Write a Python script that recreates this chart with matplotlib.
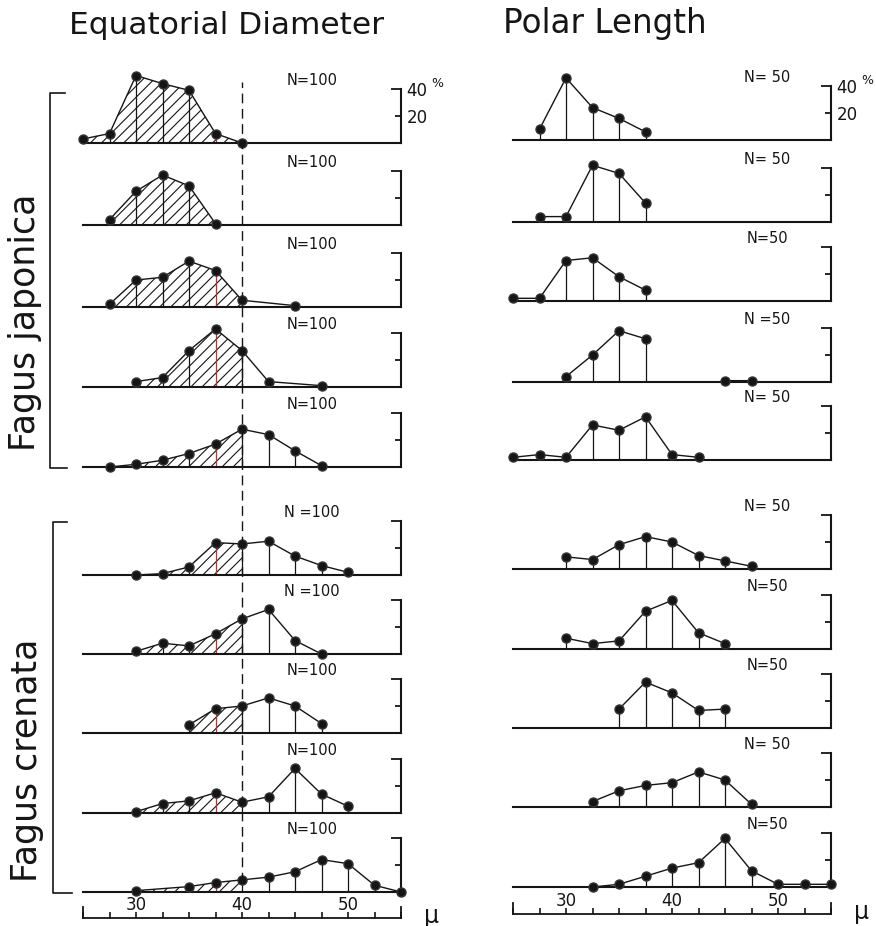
import numpy as np
import matplotlib
matplotlib.use('Agg')
import matplotlib.pyplot as plt
from matplotlib.ticker import FormatStrFormatter

# class mid-points (micron) and frequencies (%) for each sample, top to bottom
eq_sizes = [
    [25, 27.5, 30, 32.5, 35, 37.5, 40],
    [27.5, 30, 32.5, 35, 37.5],
    [27.5, 30, 32.5, 35, 37.5, 40, 45],
    [30, 32.5, 35, 37.5, 40, 42.5, 47.5],
    [27.5, 30, 32.5, 35, 37.5, 40, 42.5, 45, 47.5],
    [30, 32.5, 35, 37.5, 40, 42.5, 45, 47.5, 50],
    [30, 32.5, 35, 37.5, 40, 42.5, 45, 47.5],
    [35, 37.5, 40, 42.5, 45, 47.5],
    [30, 32.5, 35, 37.5, 40, 42.5, 45, 47.5, 50],
    [30, 35, 37.5, 40, 42.5, 45, 47.5, 50, 52.5, 55],
]
eq_freq = [
    [3, 7, 50, 44, 39, 7, 0],
    [4, 25, 37, 29, 1],
    [2, 20, 22, 34, 27, 5, 1],
    [4, 7, 27, 43, 27, 4, 1],
    [0, 2, 5, 10, 17, 28, 24, 12, 1],
    [0, 1, 6, 24, 23, 25, 14, 7, 2],
    [2, 8, 6, 15, 26, 33, 10, 0],
    [6, 18, 20, 26, 20, 7],
    [1, 7, 9, 15, 8, 12, 33, 14, 5],
    [1, 4, 7, 9, 11, 15, 24, 21, 5, 0],
]
eq_n = ["N=100", "N=100", "N=100", "N=100", "N=100",
        "N =100", "N =100", "N=100", "N=100", "N=100"]

pol_sizes = [
    [27.5, 30, 32.5, 35, 37.5],
    [27.5, 30, 32.5, 35, 37.5],
    [25, 27.5, 30, 32.5, 35, 37.5],
    [30, 32.5, 35, 37.5, 40, 42.5, 45, 47.5],
    [25, 27.5, 30, 32.5, 35, 37.5, 40, 42.5],
    [30, 32.5, 35, 37.5, 40, 42.5, 45, 47.5],
    [30, 32.5, 35, 37.5, 40, 42.5, 45],
    [35, 37.5, 40, 42.5, 45],
    [32.5, 35, 37.5, 40, 42.5, 45, 47.5],
    [32.5, 35, 37.5, 40, 42.5, 45, 47.5, 50, 52.5, 55],
]
pol_freq = [
    [8, 46, 24, 16, 6],
    [4, 4, 42, 36, 14],
    [2, 2, 30, 32, 18, 8],
    [4, 20, 38, 32, np.nan, np.nan, 1, 1],
    [2, 4, 2, 26, 22, 32, 4, 2],
    [9, 7, 18, 24, 20, 10, 6, 2],
    [8, 4, 6, 28, 36, 12, 4],
    [14, 34, 26, 13, 14],
    [4, 12, 16, 18, 26, 20, 2],
    [0, 2, 8, 14, 18, 36, 12, 2, 2, 2],
]
pol_n = ["N= 50", "N= 50", "N=50", "N =50", "N= 50",
         "N= 50", "N=50", "N=50", "N= 50", "N=50"]

INK = '#151515'
RED = '#b8352c'
W, H = 876, 926
YPX = 1.35          # pixels per percent
YLO, YHI = -4, 60

plt.rcParams['font.family'] = 'DejaVu Sans'
plt.rcParams['hatch.linewidth'] = 0.8

fig = plt.figure(figsize=(W / 100, H / 100), dpi=100)


def fx(px):
    return px / W


def fy(py):
    return 1 - py / H


def panel(x25, x55, base):
    ax = fig.add_axes([fx(x25), fy(base - YLO * YPX),
                       (x55 - x25) / W, (YHI - YLO) * YPX / H])
    ax.set_xlim(25, 55)
    ax.set_ylim(YLO, YHI)
    ax.patch.set_visible(False)
    ax.spines['top'].set_visible(False)
    ax.spines['left'].set_visible(False)
    ax.spines['bottom'].set_position(('data', 0))
    ax.spines['bottom'].set_bounds(25, 55)
    ax.spines['right'].set_position(('data', 55))
    ax.spines['right'].set_bounds(0, 40)
    for s in ['bottom', 'right']:
        ax.spines[s].set_linewidth(1.5)
        ax.spines[s].set_color(INK)
    ax.set_xticks([])
    ax.yaxis.set_ticks_position('right')
    ax.set_yticks([40])
    ax.set_yticks([20], minor=True)
    ax.tick_params(axis='y', which='major', direction='in', length=7,
                   width=1.3, color=INK, labelright=False)
    ax.tick_params(axis='y', which='minor', direction='in', length=4,
                   width=1.3, color=INK, labelright=False)
    return ax


def draw(ax, xs, ys, hatch):
    xs = np.array(xs, float)
    ys = np.array(ys, float)
    ok = ~np.isnan(ys)
    if hatch:
        m = ok & (xs <= 40)
        ax.fill_between(xs[m], 0, ys[m], facecolor='none', edgecolor=INK,
                        hatch='///', linewidth=0, zorder=1)
    cols = [RED if (hatch and x == 37.5) else INK for x in xs[ok]]
    ax.vlines(xs[ok], 0, ys[ok], colors=cols, lw=0.9, zorder=2, clip_on=False)
    ax.plot(xs, ys, '-', color=INK, lw=1.0, zorder=3, clip_on=False)
    ax.plot(xs[ok], ys[ok], 'o', ms=6.5, color=INK, mec='#333333',
            zorder=4, clip_on=False)


def column(x25, x55, bases, sizes, freqs, nlab, nx, hatch):
    for i, base in enumerate(bases):
        ax = panel(x25, x55, base)
        draw(ax, sizes[i], freqs[i], hatch)
        ax.text(nx, 46, nlab[i], ha='center', va='center', fontsize=10.5,
                color=INK)
        if i == 0:
            ax.yaxis.set_minor_formatter(FormatStrFormatter('%d'))
            ax.tick_params(axis='y', which='both', labelright=True,
                           labelsize=12, pad=4, labelcolor=INK)
            ax.annotate('%', xy=(55, 40), xytext=(22, 4),
                        textcoords='offset points', fontsize=9,
                        ha='left', va='center', color=INK)


def size_axis(x25, x55, ypx):
    ax = fig.add_axes([fx(x25), fy(ypx), (x55 - x25) / W, 11 / H])
    ax.set_xlim(25, 55)
    ax.set_ylim(0, 1)
    ax.patch.set_visible(False)
    ax.spines['top'].set_visible(False)
    for s in ['bottom', 'left', 'right']:
        ax.spines[s].set_linewidth(1.3)
        ax.spines[s].set_color(INK)
    ax.set_yticks([])
    ax.set_xticks([30, 40, 50])
    ax.set_xticks(np.arange(25, 55.1, 2.5), minor=True)
    ax.tick_params(axis='x', which='both', direction='in', length=4,
                   width=1.2, color=INK)
    ax.tick_params(axis='x', which='major', pad=-16, labelsize=12,
                   labelcolor=INK)
    ax.text(57.9, 0.2, 'µ', fontsize=17, ha='center', va='center',
            color=INK, clip_on=False)


eq_base = [143, 225, 307, 387, 467, 575, 654, 733, 813, 892]
pol_base = [140, 222, 301, 382, 460, 569, 649, 728, 807, 887]

column(83, 401, eq_base, eq_sizes, eq_freq, eq_n, 46.6, True)
column(513, 831, pol_base, pol_sizes, pol_freq, pol_n, 49.0, False)
size_axis(83, 401, 918)
size_axis(513, 831, 914)

# dashed 40 micron reference line through the equatorial column
axd = fig.add_axes([fx(83), fy(882), (401 - 83) / W, (882 - 82) / H])
axd.set_xlim(25, 55)
axd.axis('off')
axd.axvline(40, color=INK, lw=1.0, dashes=(7, 4))

# species brackets
ax0 = fig.add_axes([0, 0, 1, 1])
ax0.set_xlim(0, W)
ax0.set_ylim(H, 0)
ax0.axis('off')
ax0.plot([65, 50, 50, 67], [93, 93, 468, 468], color=INK, lw=1.2)
ax0.plot([67, 53, 53, 72], [522, 522, 893, 893], color=INK, lw=1.2)

fig.text(fx(25), fy(322), 'Fagus japonica', rotation=90, fontsize=25,
         ha='center', va='center', color=INK)
fig.text(fx(27), fy(760), 'Fagus crenata', rotation=90, fontsize=25,
         ha='center', va='center', color=INK)
fig.text(fx(227), fy(26), 'Equatorial Diameter', fontsize=22.5,
         ha='center', va='center', color=INK)
fig.text(fx(605), fy(24), 'Polar Length', fontsize=23.5,
         ha='center', va='center', color=INK)

fig.savefig('out.png', dpi=100)
